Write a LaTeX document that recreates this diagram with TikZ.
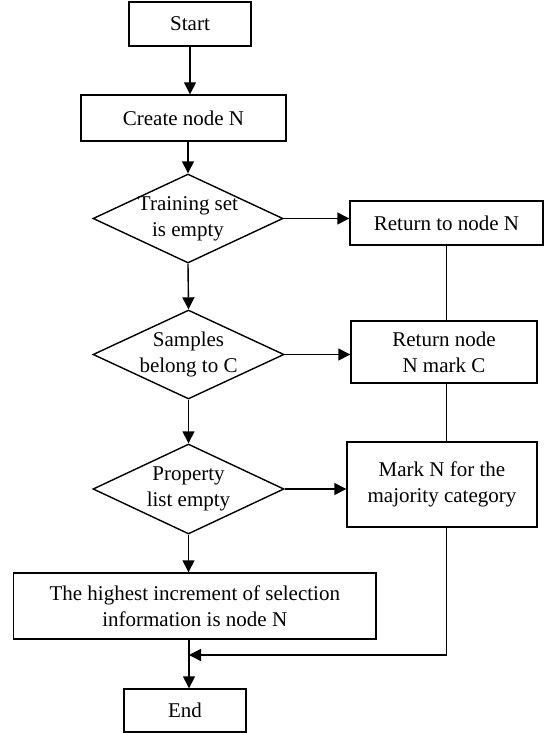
\documentclass[tikz,border=0pt]{standalone}
\usepackage{fontspec}
\setmainfont{Liberation Serif}
\usetikzlibrary{arrows.meta,shapes.geometric}

\tikzset{
  box/.style={draw, line width=1.4pt, rectangle, align=center, inner sep=0pt},
  dia/.style={draw, line width=1.4pt, diamond, inner sep=0pt},
  ttl/.style={align=center, inner sep=0pt},
  link/.style={line width=1.4pt},
  flow/.style={line width=1.4pt, -{Triangle[length=12pt,width=12pt]}}
}

\begin{document}
\begin{tikzpicture}[x=1pt, y=-1pt,
  every node/.append style={font=\fontsize{21pt}{26pt}\selectfont}]
\useasboundingbox (0,0) rectangle (547,733);

% main column
\node[box, minimum width=122pt, minimum height=44pt] (start) at (190,24) {Start};
\node[box, minimum width=205pt, minimum height=46pt] (create) at (183.5,118) {Create node N};

\node[dia, minimum width=190pt, minimum height=89pt] (d1) at (188,218.5) {};
\node[ttl] (d1t) at (d1) {Training set\\is empty};

\node[dia, minimum width=191pt, minimum height=89pt] (d2) at (188.5,354.5) {};
\node[ttl] (d2t) at (d2) {Samples\\belong to C};

\node[dia, minimum width=191pt, minimum height=90pt] (d3) at (188.5,489) {};
\node[ttl] (d3t) at (d3) {Property\\list empty};

\node[box, minimum width=362.5pt, minimum height=66pt] (high) at (194.75,606)
  {The highest increment of selection\\information is node N};
\node[box, minimum width=122pt, minimum height=43pt] (end) at (185,710.5) {End};

% right column
\node[box, minimum width=193pt, minimum height=44pt] (r1) at (446.5,223) {Return to node N};
\node[box, minimum width=186pt, minimum height=62pt] (r2) at (444,352) {Return node\\N mark C};
\node[box, minimum width=190pt, minimum height=85pt] (r3) at (442,484.5) {Mark N for the\\majority category};

\coordinate (join) at (189,655);

% vertical flow
\draw[flow] (start.south -| 190,0) -- (create.north -| 190,0);
\draw[flow] (d1.north |- create.south) -- (d1.north);
\draw[flow] (d1.south) -- (d2.north);
\draw[flow] (d2.south) -- (d3.north);
\draw[flow] (d3.south) -- (d3.south |- high.north);
\draw[flow] (join |- high.south) -- (join |- end.north);

% branches to the right
\draw[flow] (d1.east) -- (d1.east -| r1.west);
\draw[flow] (d2.east) -- (d2.east -| r2.west);
\draw[flow] (d3.east) -- (d3.east -| r3.west);

% return line
\draw[link] (r1.south) -- (r1.south |- r2.north);
\draw[link] (r1.south |- r2.south) -- (r1.south |- r3.north);
\draw[flow] (r1.south |- r3.south) |- (join);
\end{tikzpicture}
\end{document}
